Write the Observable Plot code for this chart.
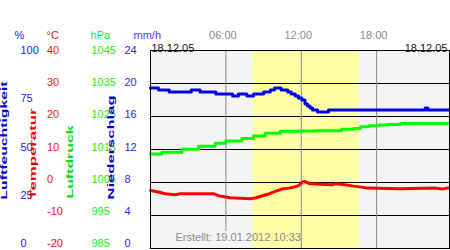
<!DOCTYPE html>
<html>
<head>
<meta charset="utf-8">
<script src="https://cdn.jsdelivr.net/npm/d3@7"></script>
<script src="https://cdn.jsdelivr.net/npm/@observablehq/plot@0.6"></script>
<style>
  html, body { margin: 0; padding: 0; background: #fff; overflow: hidden; }
</style>
</head>
<body>
<div id="chart"></div>
<script>
// ---- data (hours of day 18.12.05) ----
const humT = [0, 0.64, 1.49, 3.24, 3.95, 5.2, 6.53, 7.0, 7.67, 8.2, 9.0, 9.53, 9.87, 10.4, 10.93, 11.2, 11.52, 11.78, 12.05, 12.3, 12.5, 12.7, 12.9, 13.3, 14.17, 21.87, 22.08, 23.8];
const humV = [81, 80, 79, 80, 79, 78, 77, 78, 77, 78, 79, 80, 81, 80, 79, 78, 77, 76, 75, 73, 72, 71, 70, 69, 70, 71, 70, 70];

const tempT = [0, 0.64, 1.17, 1.96, 2.36, 5.02, 5.41, 6.34, 7.93, 8.33, 8.87, 9.39, 9.93, 10.46, 10.99, 11.52, 11.85, 12.05, 12.26, 12.71, 14.44, 14.7, 15.5, 16.16, 16.83, 17.22, 19.88, 22.67, 23.2, 23.6, 23.8];
const tempV = [-2.4, -2.9, -3.4, -3.7, -3.4, -3.4, -4.0, -4.6, -4.9, -4.7, -4.1, -3.5, -2.7, -2.0, -1.7, -1.3, -0.8, 0.1, 0.3, -0.4, -0.7, -0.4, -0.7, -1.1, -1.4, -1.7, -1.9, -1.7, -2.0, -1.7, -1.7];

const presT = [0, 0.9, 2.5, 3.82, 5.15, 6.0, 7.27, 8.2, 9.13, 10.33, 11.92, 13.1, 14.4, 15.2, 16.16, 16.7, 17.36, 18.15, 18.95, 19.88, 21.07, 23.8];
const presV = [1013.6, 1014.2, 1015.1, 1016.0, 1016.9, 1017.6, 1018.3, 1019.1, 1019.9, 1020.5, 1020.6, 1020.7, 1020.7, 1021.1, 1021.4, 1021.9, 1022.2, 1022.4, 1022.6, 1022.9, 1022.9, 1023.0];

const sunrise = 8.13;
const sunset = 16.62;

const humTicks = [0, 25, 50, 75, 100];
const tempTicks = [-20, -10, 0, 10, 20, 30, 40];
const presTicks = [985, 995, 1005, 1015, 1025, 1035, 1045];
const precipTicks = [0, 4, 8, 12, 16, 20, 24];
const gridValues = [4, 8, 12, 16, 20];
const timeTicks = [6, 12, 18];
const timeLabels = ["06:00", "12:00", "18:00"];
const dateLabel = "18.12.05";
const caption = "Erstellt: 19.01.2012 10:33";

// ---- scale helpers (all series mapped to a common 0..100 axis) ----
const tempMin = -20, tempMax = 40, presMin = 985, presMax = 1045, precipMax = 24;
const fromTemp = t => (t - tempMin) / (tempMax - tempMin) * 100;
const fromPres = p => (p - presMin) / (presMax - presMin) * 100;
const fromPrecip = r => r / precipMax * 100;
const labelPos = pct => 2.4 + 0.976 * pct; // tick labels sit on a slightly tighter ladder

const hum = humT.map((t, i) => ({t, v: humV[i]}));
const temp = tempT.map((t, i) => ({t, v: fromTemp(tempV[i])}));
const pres = presT.map((t, i) => ({t, v: fromPres(presV[i])}));

const font = 11;
const cBlue = "#1c1cf0", cRed = "#ff1010", cGreen = "#10f010", cPrec = "#2a2ae6";

const svg = Plot.plot({
  width: 450,
  height: 250,
  marginLeft: 150,
  marginRight: 1,
  marginTop: 50,
  marginBottom: 2,
  style: {fontFamily: "'Liberation Sans', Arial, sans-serif", background: "#fff", overflow: "visible"},
  x: {domain: [0, 23.8], axis: null},
  y: {domain: [0, 100], axis: null},
  marks: [
    Plot.frame({fill: "#f4f4f4", stroke: null}),
    Plot.rect([{a: sunrise, b: sunset}], {x1: "a", x2: "b", fill: "#ffffa6"}),
    Plot.ruleY(gridValues.map(fromPrecip), {stroke: "black", strokeWidth: 1}),
    Plot.ruleX(timeTicks.filter(d => d !== 6), {stroke: "#888", strokeWidth: 1}),
    Plot.ruleX(timeTicks.filter(d => d === 6), {stroke: "#888", strokeWidth: 1, insetBottom: 17}),
    Plot.line(pres, {x: "t", y: "v", stroke: "#00ff00", strokeWidth: 3, curve: "step-after"}),
    Plot.line(temp, {x: "t", y: "v", stroke: "#ff0000", strokeWidth: 3}),
    Plot.line(hum, {x: "t", y: "v", stroke: "#0000ee", strokeWidth: 3, curve: "step-after"}),
    Plot.frame({stroke: "black", strokeWidth: 1}),

    // top labels
    Plot.text(timeTicks, {x: d => d, text: (d, i) => timeLabels[i], frameAnchor: "top", dy: -19.5, dx: -3, fill: "#8a8a8a", fontSize: font}),
    Plot.text([dateLabel], {text: d => d, frameAnchor: "top-left", dx: 1, dy: -6.7, textAnchor: "start", fill: "#201020", fontSize: font}),
    Plot.text([dateLabel], {text: d => d, frameAnchor: "top-right", dx: -2, dy: -6.7, textAnchor: "end", fill: "#201020", fontSize: font}),
    Plot.text([caption], {text: d => d, frameAnchor: "bottom-left", dx: 25, dy: -8, textAnchor: "start", fill: "#8a8a8a", fontSize: font}),

    // unit headers
    Plot.text(["%"], {text: d => d, frameAnchor: "top-left", dx: -136, dy: -19.3, fill: cBlue, fontSize: font}),
    Plot.text(["°C"], {text: d => d, frameAnchor: "top-left", dx: -104, dy: -19.3, fill: cRed, fontSize: font}),
    Plot.text(["hPa"], {text: d => d, frameAnchor: "top-left", dx: -60, dy: -19.3, fill: cGreen, fontSize: font}),
    Plot.text(["mm/h"], {text: d => d, frameAnchor: "top-left", dx: -17, dy: -19.3, fill: "#4a3cff", fontSize: font}),

    // tick labels
    Plot.text(humTicks, {y: d => labelPos(d), text: d => String(d), frameAnchor: "left", dx: -130, fill: cBlue, fontSize: font}),
    Plot.text(tempTicks, {y: d => labelPos(fromTemp(d)), text: d => String(d), frameAnchor: "left", dx: -103.5, fill: cRed, fontSize: font}),
    Plot.text(presTicks, {y: d => labelPos(fromPres(d)), text: d => String(d), frameAnchor: "left", dx: -59, fill: cGreen, fontSize: font}),
    Plot.text(precipTicks, {y: d => labelPos(fromPrecip(d)), text: d => String(d), frameAnchor: "left", dx: -26, fill: cPrec, fontSize: font}),

    // rotated axis titles
    Plot.text(["Luftfeuchtigkeit"], {text: d => d, frameAnchor: "bottom-left", dx: -143.4, dy: -49, rotate: -90, textAnchor: "start", fill: "#0000dd", fontSize: 9.6, fontWeight: "bold"}),
    Plot.text(["Temperatur"], {text: d => d, frameAnchor: "bottom-left", dx: -114.5, dy: -49, rotate: -90, textAnchor: "start", fill: "#ee0000", fontSize: 9.8, fontWeight: "bold"}),
    Plot.text(["Luftdruck"], {text: d => d, frameAnchor: "bottom-left", dx: -78, dy: -50, rotate: -90, textAnchor: "start", fill: "#00e000", fontSize: 9.8, fontWeight: "bold"}),
    Plot.text(["Niederschlag"], {text: d => d, frameAnchor: "bottom-left", dx: -37, dy: -49, rotate: -90, textAnchor: "start", fill: "#0000cc", fontSize: 9.8, fontWeight: "bold"})
  ]
});

// stretch the rotated titles along their length, as in the original
const lengths = {"Luftfeuchtigkeit": 118, "Temperatur": 91, "Luftdruck": 73, "Niederschlag": 104};
d3.select(svg).selectAll("text").each(function() {
  const L = lengths[this.textContent];
  if (L) d3.select(this).attr("textLength", L).attr("lengthAdjust", "spacingAndGlyphs");
});

document.getElementById("chart").appendChild(svg);
</script>
</body>
</html>
